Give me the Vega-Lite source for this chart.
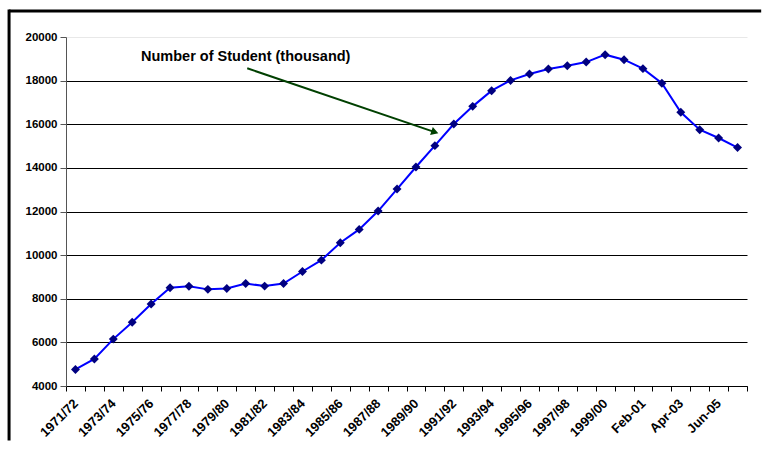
{
  "$schema": "https://vega.github.io/schema/vega-lite/v6.json",
  "width": 681,
  "height": 349,
  "autosize": {"type": "none"},
  "padding": {"left": 66, "top": 37, "right": 15, "bottom": 89},
  "background": "white",
  "config": {"view": {"stroke": null}, "font": "Liberation Sans"},
  "layer": [
    {
      "data": {"values": [
        {"year": "1971/72", "students": 4760},
        {"year": "1972/73", "students": 5240},
        {"year": "1973/74", "students": 6150},
        {"year": "1974/75", "students": 6920},
        {"year": "1975/76", "students": 7760},
        {"year": "1976/77", "students": 8500},
        {"year": "1977/78", "students": 8570},
        {"year": "1978/79", "students": 8430},
        {"year": "1979/80", "students": 8470},
        {"year": "1980/81", "students": 8700},
        {"year": "1981/82", "students": 8580},
        {"year": "1982/83", "students": 8700},
        {"year": "1983/84", "students": 9250},
        {"year": "1984/85", "students": 9770},
        {"year": "1985/86", "students": 10570},
        {"year": "1986/87", "students": 11180},
        {"year": "1987/88", "students": 12020},
        {"year": "1988/89", "students": 13030},
        {"year": "1989/90", "students": 14040},
        {"year": "1990/91", "students": 15020},
        {"year": "1991/92", "students": 16010},
        {"year": "1992/93", "students": 16820},
        {"year": "1993/94", "students": 17540},
        {"year": "1994/95", "students": 18010},
        {"year": "1995/96", "students": 18300},
        {"year": "1996/97", "students": 18530},
        {"year": "1997/98", "students": 18680},
        {"year": "1998/99", "students": 18850},
        {"year": "1999/00", "students": 19190},
        {"year": "Jan-00", "students": 18960},
        {"year": "Feb-01", "students": 18550},
        {"year": "Mar-02", "students": 17880},
        {"year": "Apr-03", "students": 16550},
        {"year": "May-04", "students": 15750},
        {"year": "Jun-05", "students": 15370},
        {"year": "Jul-06", "students": 14930}
      ]},
      "encoding": {
        "x": {
          "field": "year", "type": "ordinal", "sort": null, "bandPosition": 0.5,
          "scale": {"type": "band", "paddingInner": 0, "paddingOuter": 0},
          "axis": {
            "title": null, "grid": false, "labelAngle": -45, "labelAlign": "right", "labelBaseline": "middle",
            "labelFont": "Liberation Sans", "labelFontWeight": "bold", "labelFontSize": 13, "labelColor": "black",
            "labelOverlap": false, "labelPadding": 10, "labelDx": -8,
            "tickBand": "extent", "tickColor": "black", "tickSize": 5, "domainColor": "black",
            "labelExpr": "indexof(['1971/72','1973/74','1975/76','1977/78','1979/80','1981/82','1983/84','1985/86','1987/88','1989/90','1991/92','1993/94','1995/96','1997/98','1999/00','Feb-01','Apr-03','Jun-05'], datum.value) >= 0 ? datum.label : ''"
          }
        },
        "y": {
          "field": "students", "type": "quantitative",
          "scale": {"domain": [4000, 20000], "nice": false, "zero": false},
          "axis": {
            "title": null, "values": [4000, 6000, 8000, 10000, 12000, 14000, 16000, 18000, 20000], "format": "d",
            "labelFont": "Liberation Sans", "labelFontWeight": "bold", "labelFontSize": 11.5, "labelColor": "black",
            "labelPadding": 3, "tickSize": 6, "tickColor": "#555", "domainColor": "#555",
            "grid": true, "gridWidth": 1,
            "gridColor": {"condition": {"test": "datum.value === 20000", "value": "#e8e8e8"}, "value": "black"}
          }
        }
      },
      "layer": [
        {"mark": {"type": "line", "color": "#0000FF", "strokeWidth": 2}},
        {"mark": {"type": "point", "shape": "diamond", "filled": true, "color": "#000080", "size": 80, "opacity": 1}}
      ]
    },
    {
      "data": {"values": [{"note": "Number of Student (thousand)"}]},
      "layer": [
        {
          "mark": {"type": "rule", "color": "black", "strokeWidth": 3},
          "encoding": {
            "x": {"datum": -3.01, "type": "quantitative", "scale": {"domain": [0, 36], "nice": false, "zero": false}, "axis": null},
            "x2": {"datum": 36.75},
            "y": {"datum": 21190, "type": "quantitative"},
            "y2": {"datum": 21190}
          }
        },
        {
          "mark": {"type": "rule", "color": "black", "strokeWidth": 3},
          "encoding": {
            "x": {"datum": -3.01, "type": "quantitative", "scale": {"domain": [0, 36], "nice": false, "zero": false}, "axis": null},
            "y": {"datum": 21260, "type": "quantitative"},
            "y2": {"datum": 1500}
          }
        },
        {
          "mark": {"type": "text", "fontWeight": "bold", "fontSize": 14.5, "align": "center", "baseline": "middle", "color": "black", "font": "Liberation Sans"},
          "encoding": {
            "x": {"datum": 9.5, "type": "quantitative", "scale": {"domain": [0, 36], "nice": false, "zero": false}, "axis": null},
            "y": {"datum": 19069, "type": "quantitative"},
            "text": {"field": "note"}
          }
        },
        {
          "mark": {"type": "rule", "color": "#004000", "strokeWidth": 2},
          "encoding": {
            "x": {"datum": 9.58, "type": "quantitative", "scale": {"domain": [0, 36], "nice": false, "zero": false}, "axis": null},
            "y": {"datum": 18565, "type": "quantitative"},
            "x2": {"datum": 19.5},
            "y2": {"datum": 15640}
          }
        },
        {
          "mark": {"type": "point", "shape": "triangle-right", "filled": true, "color": "#004000", "size": 70, "angle": 18.8, "opacity": 1},
          "encoding": {
            "x": {"datum": 19.5, "type": "quantitative", "scale": {"domain": [0, 36], "nice": false, "zero": false}, "axis": null},
            "y": {"datum": 15640, "type": "quantitative"}
          }
        }
      ]
    }
  ],
  "resolve": {"scale": {"x": "independent"}}
}
